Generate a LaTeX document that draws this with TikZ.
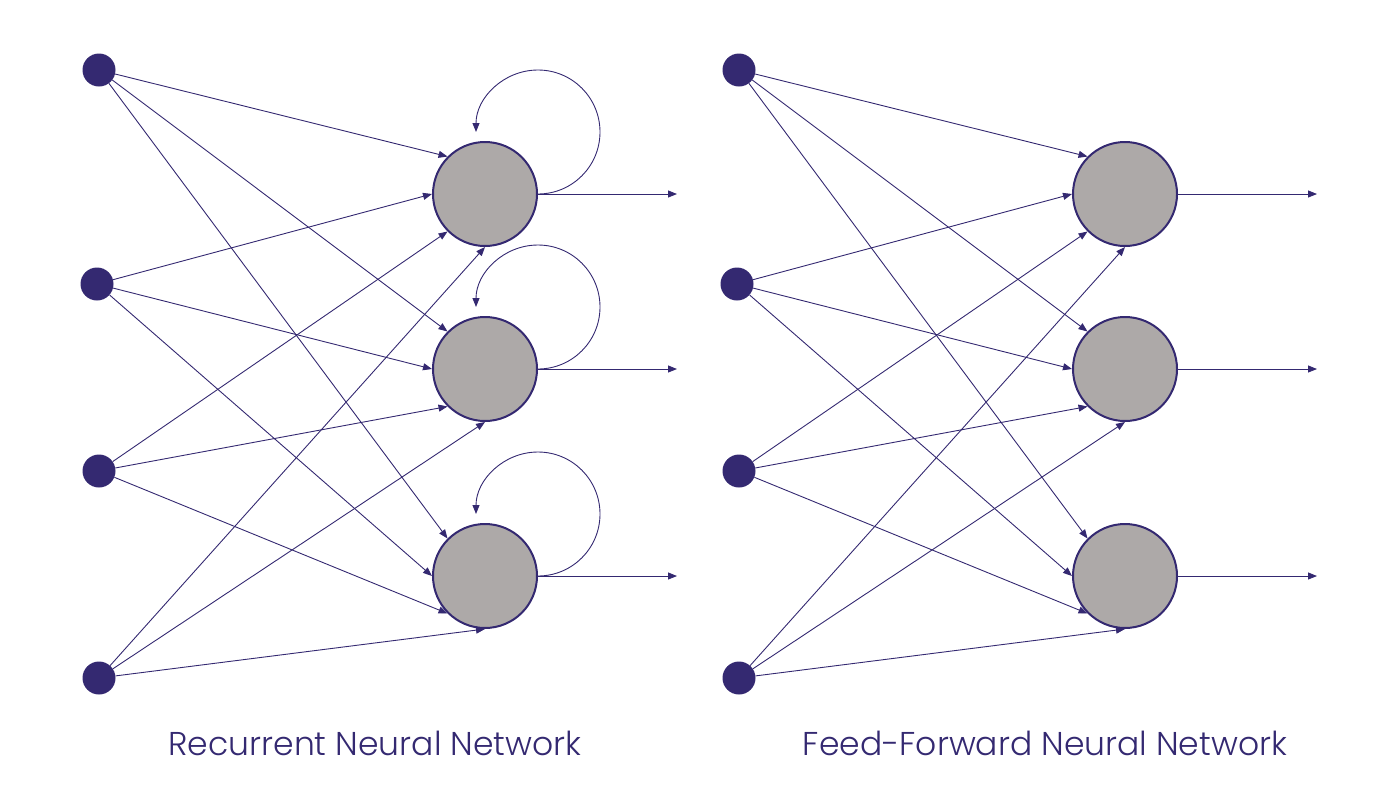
\documentclass[tikz,border=0pt]{standalone}
\usepackage{fontspec}
\setmainfont{Poppins}[UprightFont=* Light]
\usetikzlibrary{arrows.meta}
\definecolor{nnpurple}{RGB}{52,41,113}
\definecolor{nngrey}{RGB}{173,169,168}
\begin{document}
\begin{tikzpicture}[x=1pt,y=-1pt,
  inputnode/.style={circle,fill=nnpurple,minimum size=33pt,inner sep=0pt},
  outputnode/.style={circle,fill=nngrey,draw=nnpurple,line width=2pt,minimum size=104pt,inner sep=0pt},
  edge/.style={draw=nnpurple,line width=0.9pt,-{Triangle[length=9pt,width=7pt]}},
  caption/.style={text=nnpurple,font=\fontsize{33}{38}\selectfont}]
\useasboundingbox (0,0) rectangle (1400,785);
\foreach \net/\dx in {L/0,R/640}{
  \begin{scope}[xshift=\dx]
    \node[inputnode] (\net-i1) at (99,70) {};
    \node[inputnode] (\net-i2) at (97,284) {};
    \node[inputnode] (\net-i3) at (99,471) {};
    \node[inputnode] (\net-i4) at (99,678) {};
    \node[outputnode] (\net-o1) at (485,194) {};
    \node[outputnode] (\net-o2) at (485,369) {};
    \node[outputnode] (\net-o3) at (485,576) {};
    \coordinate (\net-y1) at (677,194);
    \coordinate (\net-y2) at (677,369);
    \coordinate (\net-y3) at (677,576);
    \foreach \i/\a in {1/north west,2/west,3/south west,4/south}{
      \foreach \j in {1,2,3}{
        \draw[edge] (\net-i\i) -- (\net-o\j.\a);
      }
    }
    \foreach \j in {1,2,3}{
      \draw[edge] (\net-o\j.east) -- (\net-y\j);
    }
  \end{scope}
}
\foreach \j in {1,2,3}{
  \draw[edge] (L-o\j.east) arc[start angle=90,end angle=-180,radius=62];
}
\node[caption] (capL) at (375,743) {Recurrent Neural Network};
\node[caption] (capR) at (1045,743) {Feed-Forward Neural Network};
\end{tikzpicture}
\end{document}
